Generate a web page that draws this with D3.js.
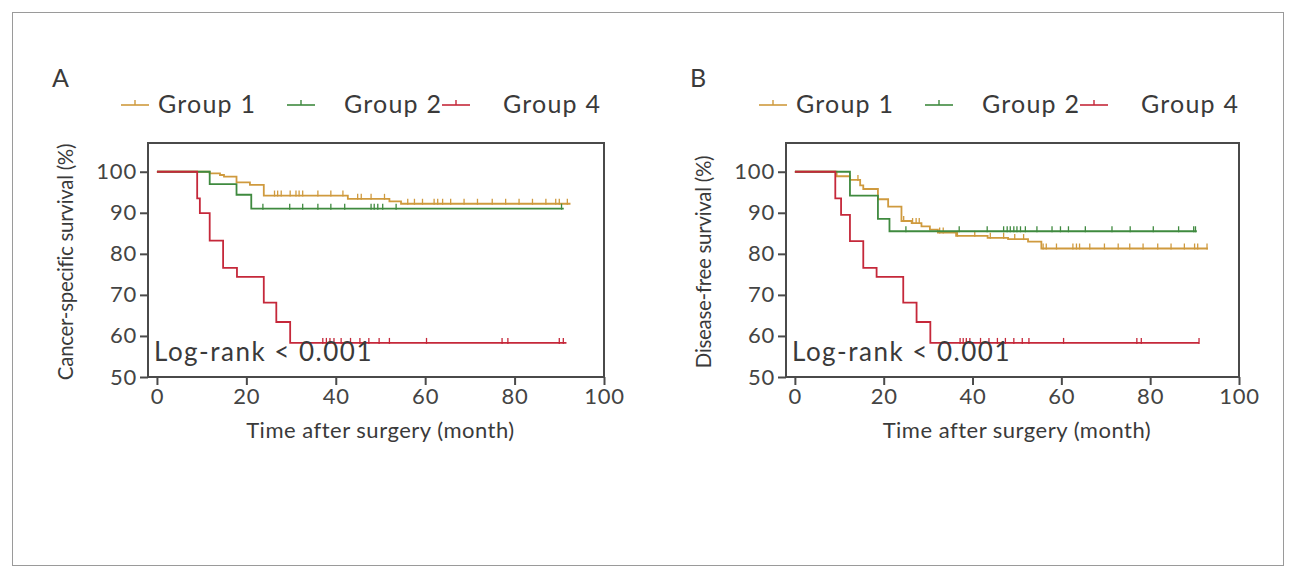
<!DOCTYPE html>
<html>
<head>
<meta charset="utf-8">
<script src="https://cdn.jsdelivr.net/npm/d3@7/dist/d3.min.js"></script>
<style>
  body { margin: 0; background: #fff; }
  text { font-family: Lato, "Open Sans", sans-serif; fill: #3a3a3a; }
</style>
</head>
<body>
<div id="wrap"></div>
<script>
var W = 1296, H = 586;

// group names and colours
var groups = ["Group 1", "Group 2", "Group 4"];
var colors = ["#cf9a3e", "#3f8a3f", "#c5283a"];

// ticks
var yTicks = [50, 60, 70, 80, 90, 100];
var xTicks = [0, 20, 40, 60, 80, 100];

// Panel A: cancer-specific survival, [month, %] steps
var cssG1 = [[0,100],[11.8,99.6],[14.1,99.2],[15,98.8],[17.8,97.4],[20.8,96.8],[23.9,94.2],[42.7,93.4],[52,92.8],[54.6,92.2]];
var cssG2 = [[0,100],[11.8,97],[17.8,94.4],[21.1,91]];
var cssG4 = [[0,100],[9,93.5],[9.6,89.9],[11.8,83.2],[14.8,76.6],[17.9,74.4],[23.9,68.1],[26.7,63.4],[29.8,58.3]];
var cssEnd = [92.5, 91, 91.6];
var cssG1Cens = [26.3,27,27.8,29.8,31.1,31.8,32.6,36,38.9,41.6,44.9,45.7,47.9,50.9,56.1,57.6,59.4,62,62.8,63.9,65.7,68.7,71.7,75,78,81,84,87,89.2,90,91.8];
var cssG2Cens = [23.7,29.7,32.6,36,38.9,42,47.9,48.6,49.4,50.5,53.5,90.5];
var cssG4Cens = [37.1,37.9,38.7,39.6,41.2,43.3,45.4,47.4,49.7,52,60.3,77.2,78.5,90,90.9];

// Panel B: disease-free survival, [month, %] steps
var dfsG1 = [[0,100],[9.4,98.9],[12.4,98],[14.7,96.7],[15.4,95.8],[18.7,93.3],[21,91.5],[24,88],[26.3,87.5],[28.5,86.7],[30.4,85.9],[32.2,85.2],[36.3,84.4],[43.4,83.9],[48,83.6],[52.5,83],[55.5,81.3]];
var dfsG2 = [[0,100],[12.4,94.2],[18.7,88.5],[21.3,85.5]];
var dfsG4 = [[0,100],[9.1,93.5],[10.4,89.5],[12.4,83.1],[15.4,76.6],[18.4,74.4],[24.4,68.1],[27.4,63.4],[30.5,58.3]];
var dfsEnd = [93, 90.5, 91];
var dfsG1Cens = [14.2,24.5,26.5,27.3,28,32.6,33.4,36.6,40.5,44,47,49.5,51.5,55.9,56.6,58.9,62.6,63.4,64.1,66.4,69.7,72.8,75.4,78.4,81.7,84.7,87.7,90,90.7,92.8];
var dfsG2Cens = [25,37,43.3,47,47.8,48.5,49.3,50,50.8,51.9,54.5,57.9,59.8,61.6,65.4,71.4,75.5,80.7,86.4,89.8,90.2];
var dfsG4Cens = [37.2,37.9,38.6,39.4,41.8,43.7,45.6,47.4,49.3,51.2,52.7,60.5,77,78,91];

var panels = [
  { label: "A", ytitle: "Cancer-specific survival (%)", left: 148, right: 604,
    curves: [cssG1, cssG2, cssG4], ends: cssEnd, cens: [cssG1Cens, cssG2Cens, cssG4Cens] },
  { label: "B", ytitle: "Disease-free survival (%)", left: 786, right: 1239,
    curves: [dfsG1, dfsG2, dfsG4], ends: dfsEnd, cens: [dfsG1Cens, dfsG2Cens, dfsG4Cens] }
];

var plotTop = 143, plotBottom = 377;

var svg = d3.select('#wrap').append('svg')
  .attr('width', W).attr('height', H);

// outer frame
svg.append('rect')
  .attr('x', 12.5).attr('y', 12.5)
  .attr('width', W - 25).attr('height', H - 33)
  .style('fill', 'none').style('stroke', '#9a9a9a').style('stroke-width', 1);

var bis = d3.bisector(function(d){ return d[0]; }).right;
function survAt(steps, t) {
  return steps[Math.max(0, bis(steps, t) - 1)][1];
}

panels.forEach(function(p) {
  var x = d3.scaleLinear().domain([-2, 100]).range([p.left, p.right]);
  var y = d3.scaleLinear().domain([50, 107]).range([plotBottom, plotTop]);
  var g = svg.append('g');

  g.append('text')
    .attr('x', p.left - 96).attr('y', 87)
    .style('font-size', '25px')
    .text(p.label);

  // legend
  var lx = [p.left - 27, p.left + 139, p.left + 294],
      tx = [p.left + 10, p.left + 196, p.left + 355];
  groups.forEach(function(name, i) {
    var lg = g.append('g');
    lg.append('line')
      .attr('x1', lx[i]).attr('x2', lx[i] + 28)
      .attr('y1', 105).attr('y2', 105)
      .style('stroke', colors[i]).style('stroke-width', 1.6);
    lg.append('line')
      .attr('x1', lx[i] + 14).attr('x2', lx[i] + 14)
      .attr('y1', 100).attr('y2', 105)
      .style('stroke', colors[i]).style('stroke-width', 1.4);
    lg.append('text')
      .attr('x', tx[i]).attr('y', 113)
      .style('font-size', '25px')
      .style('letter-spacing', '1.2px')
      .text(name);
  });

  // curves
  var line = d3.line()
    .x(function(d){ return x(d[0]); })
    .y(function(d){ return y(d[1]); })
    .curve(d3.curveStepAfter);

  p.curves.forEach(function(steps, i) {
    var pts = steps.concat([[p.ends[i], steps[steps.length - 1][1]]]);
    g.append('path')
      .attr('d', line(pts))
      .style('fill', 'none')
      .style('stroke', colors[i])
      .style('stroke-width', 1.8);
    g.selectAll(null)
      .data(p.cens[i])
      .enter().append('line')
      .attr('x1', function(d){ return x(d); })
      .attr('x2', function(d){ return x(d); })
      .attr('y1', function(d){ return y(survAt(steps, d)) - 5; })
      .attr('y2', function(d){ return y(survAt(steps, d)) + 1; })
      .style('stroke', colors[i])
      .style('stroke-width', 1.3);
  });

  // frame
  g.append('rect')
    .attr('x', p.left).attr('y', plotTop)
    .attr('width', p.right - p.left).attr('height', plotBottom - plotTop)
    .style('fill', 'none').style('stroke', '#4a4a4a').style('stroke-width', 2);

  // axes
  var ya = g.append('g')
    .attr('transform', 'translate(' + p.left + ',0)')
    .call(d3.axisLeft(y).tickValues(yTicks).tickSize(8).tickPadding(3));
  var xa = g.append('g')
    .attr('transform', 'translate(0,' + plotBottom + ')')
    .call(d3.axisBottom(x).tickValues(xTicks).tickSize(8).tickPadding(3));
  [ya, xa].forEach(function(a) {
    a.select('.domain').remove();
    a.selectAll('line').style('stroke', '#4a4a4a').style('stroke-width', 2);
    a.selectAll('text')
      .style('font-size', '22px')
      .style('letter-spacing', '0.8px')
      .style('font-family', 'Lato, sans-serif')
      .style('fill', '#444');
  });

  g.append('text')
    .attr('x', (x(0) + x(100)) / 2).attr('y', 438)
    .attr('text-anchor', 'middle')
    .style('font-size', '22px')
    .style('letter-spacing', '0.5px')
    .text('Time after surgery (month)');

  g.append('text')
    .attr('transform', 'translate(' + (p.left - 75) + ',' + ((plotTop + plotBottom) / 2 + 2) + ') rotate(-90)')
    .attr('text-anchor', 'middle')
    .style('font-size', '20.5px')
    .style('letter-spacing', '-0.3px')
    .text(p.ytitle);

  g.append('text')
    .attr('x', p.left + 6).attr('y', 361)
    .style('font-size', '26px')
    .style('letter-spacing', '1.5px')
    .text('Log-rank < 0.001');
});
</script>
</body>
</html>
